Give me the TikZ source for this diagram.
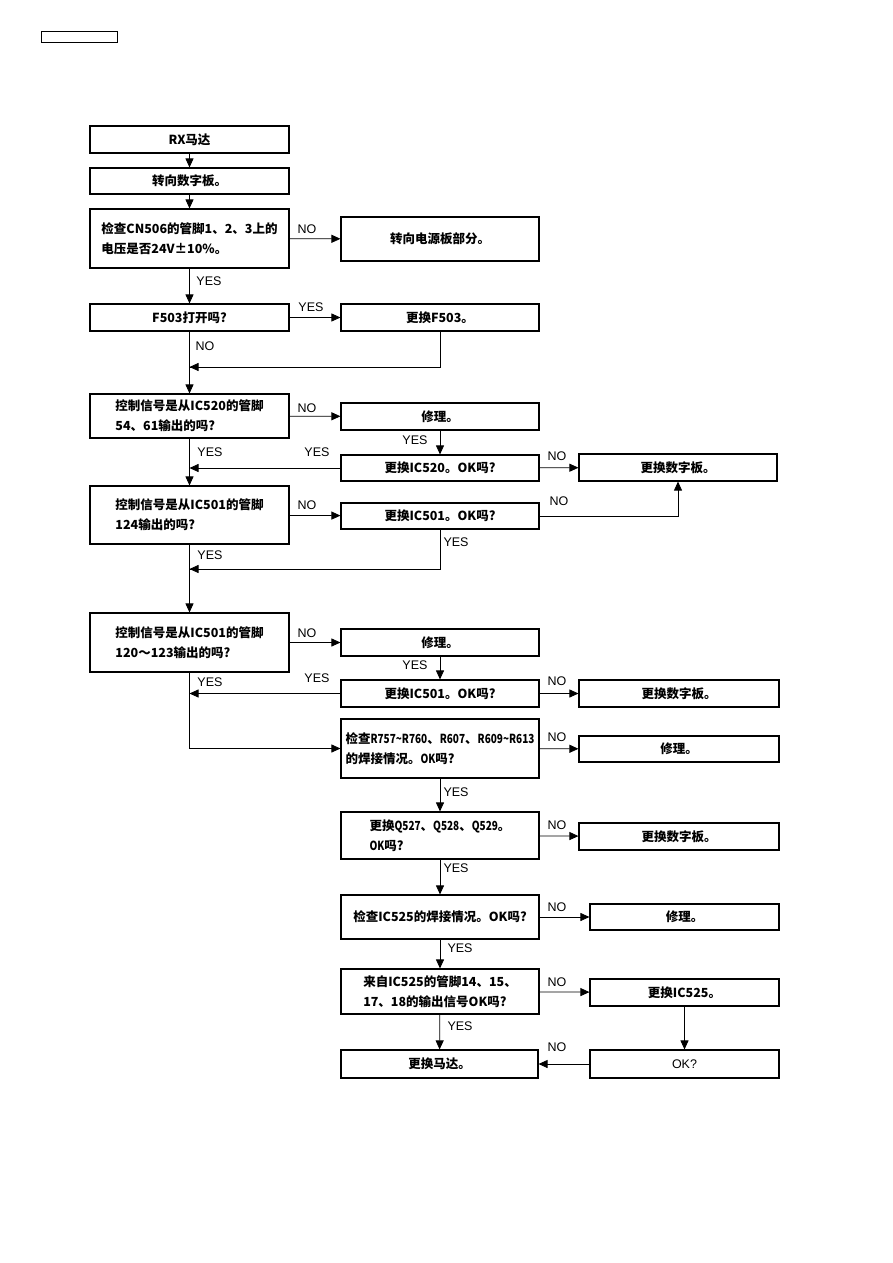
\documentclass[tikz,border=0pt]{standalone}
\usepackage{fontspec}
\setmainfont{Liberation Sans}
\newfontfamily\cjk{Noto Sans CJK SC}
\newfontfamily\cjkn{Noto Sans CJK SC}[FakeStretch=0.8]
\newcommand{\nw}[1]{{\cjkn\bfseries #1}}
\usetikzlibrary{arrows.meta}
\begin{document}
\begin{tikzpicture}[x=1pt,y=-1pt,
  box/.style={draw, line width=1.1pt, inner sep=2pt, align=left,
    font=\cjk\bfseries\fontsize{12.5}{20}\selectfont},
  plain/.style={draw, line width=1.1pt, inner sep=2pt,
    font=\fontsize{12.5}{15}\selectfont},
  lbl/.style={font=\fontsize{12.5}{15}\selectfont, inner sep=0pt},
  arr/.style={line width=0.8pt, -{Triangle[length=9pt,width=8pt]}},
  ln/.style={line width=0.8pt}]
\useasboundingbox (0,0) rectangle (893,1263);
\node[draw, line width=0.8pt, minimum width=76pt, minimum height=11pt, inner sep=0pt] (hdr) at (79,36.5) {};

% left column
\node[box, minimum width=199pt, minimum height=27pt] (A) at (189.5,139.5) {RX马达};
\node[box, minimum width=199pt, minimum height=26pt] (B) at (189.5,181) {转向数字板。};
\node[box, minimum width=199pt, minimum height=59pt] (C) at (189.5,238.5) {检查CN506的管脚1、2、3上的\\电压是否24V±10\%。};
\node[box, minimum width=199pt, minimum height=27pt] (D) at (189.5,317.5) {F503打开吗?};
\node[box, minimum width=199pt, minimum height=44pt] (E) at (189.5,416) {控制信号是从IC520的管脚\\54、61输出的吗?};
\node[box, minimum width=199pt, minimum height=58pt] (F) at (189.5,515) {控制信号是从IC501的管脚\\124输出的吗?};
\node[box, minimum width=199pt, minimum height=59pt] (G) at (189.5,642.5) {控制信号是从IC501的管脚\\120～123输出的吗?};

% middle column
\node[box, minimum width=198pt, minimum height=44pt] (Cr) at (440,239) {转向电源板部分。};
\node[box, minimum width=198pt, minimum height=27pt] (Dr) at (440,317.5) {更换F503。};
\node[box, minimum width=198pt, minimum height=27pt] (R1) at (440,416.5) {修理。};
\node[box, minimum width=198pt, minimum height=26pt] (X1) at (440,468) {更换IC520。OK吗?};
\node[box, minimum width=198pt, minimum height=26pt] (X2) at (440,516) {更换IC501。OK吗?};
\node[box, minimum width=198pt, minimum height=27pt] (R2) at (440,642.5) {修理。};
\node[box, minimum width=198pt, minimum height=27pt] (X3) at (440,693.5) {更换IC501。OK吗?};
\node[box, minimum width=198pt, minimum height=59pt] (H) at (440,748.5) {检查\nw{R757\char`~R760}、\nw{R607}、\nw{R609\char`~R613}\\的焊接情况。\nw{OK}吗?};
\node[box, minimum width=198pt, minimum height=47pt] (I) at (440,835.5) {更换\nw{Q527}、\nw{Q528}、\nw{Q529}。\\\nw{OK}吗?};
\node[box, minimum width=198pt, minimum height=44pt] (J) at (440,917) {检查IC525的焊接情况。OK吗?};
\node[box, minimum width=198pt, minimum height=45pt] (K) at (440,991.5) {来自IC525的管脚14、15、\\17、18的输出信号OK吗?};
\node[box, minimum width=197pt, minimum height=28pt] (L) at (439.5,1064) {更换马达。};

% right column
\node[box, minimum width=198pt, minimum height=27pt] (Z1) at (678,467.5) {更换数字板。};
\node[box, minimum width=200pt, minimum height=27pt] (Z2) at (679,693.5) {更换数字板。};
\node[box, minimum width=200pt, minimum height=26pt] (R3) at (679,749) {修理。};
\node[box, minimum width=200pt, minimum height=27pt] (Z3) at (679,836.5) {更换数字板。};
\node[box, minimum width=189pt, minimum height=26pt] (R4) at (684.5,917) {修理。};
\node[box, minimum width=189pt, minimum height=27pt] (X4) at (684.5,992.5) {更换IC525。};
\node[plain, minimum width=189pt, minimum height=28pt] (OK) at (684.5,1064) {OK?};

% junction coordinates
\coordinate (j1) at (189.5,367);
\coordinate (j2) at (189.5,569);

% connectors
\draw[arr] (A) -- (B);
\draw[arr] (B) -- (C);
\draw[arr] (C) -- (Cr);
\draw[arr] (C) -- (D);
\draw[arr] (D) -- (Dr);
\draw[ln] (Dr.south) |- (j1);
\draw[arr] (Dr.south |- j1) -- (j1);
\draw[arr] (D) -- (E);
\draw[arr] (E) -- (R1);
\draw[arr] (R1) -- (X1);
\draw[arr] (X1.west) -- (X1.west -| E.south);
\draw[arr] (X1) -- (Z1);
\draw[arr] (E) -- (F);
\draw[arr] (F) -- (X2);
\draw[arr] (X2.east) -| (Z1.south);
\draw[ln] (X2.south) |- (j2);
\draw[arr] (X2.south |- j2) -- (j2);
\draw[arr] (F) -- (G);
\draw[arr] (G) -- (R2);
\draw[arr] (R2) -- (X3);
\draw[arr] (X3.west) -- (X3.west -| G.south);
\draw[arr] (X3) -- (Z2);
\draw[arr] (G.south) |- (H.west);
\draw[arr] (H) -- (R3);
\draw[arr] (H) -- (I);
\draw[arr] (I) -- (Z3);
\draw[arr] (I) -- (J);
\draw[arr] (J) -- (R4);
\draw[arr] (J) -- (K);
\draw[arr] (K) -- (X4);
\draw[arr] (K) -- (L);
\draw[arr] (X4) -- (OK);
\draw[arr] (OK) -- (L);

% labels
\node[lbl] (l1) at (307,229) {NO};
\node[lbl] (l2) at (209,281) {YES};
\node[lbl] (l3) at (311,307) {YES};
\node[lbl] (l4) at (205,346) {NO};
\node[lbl] (l5) at (307,408) {NO};
\node[lbl] (l6) at (415,440) {YES};
\node[lbl] (l7) at (317,452) {YES};
\node[lbl] (l8) at (210,452) {YES};
\node[lbl] (l9) at (557,456) {NO};
\node[lbl] (l10) at (307,505) {NO};
\node[lbl] (l11) at (559,501) {NO};
\node[lbl] (l12) at (456,542) {YES};
\node[lbl] (l13) at (210,555) {YES};
\node[lbl] (l14) at (307,633) {NO};
\node[lbl] (l15) at (415,665) {YES};
\node[lbl] (l16) at (317,678) {YES};
\node[lbl] (l17) at (210,682) {YES};
\node[lbl] (l18) at (557,681) {NO};
\node[lbl] (l19) at (557,737) {NO};
\node[lbl] (l20) at (456,792) {YES};
\node[lbl] (l21) at (557,825) {NO};
\node[lbl] (l22) at (456,868) {YES};
\node[lbl] (l23) at (557,907) {NO};
\node[lbl] (l24) at (460,948) {YES};
\node[lbl] (l25) at (557,982) {NO};
\node[lbl] (l26) at (460,1026) {YES};
\node[lbl] (l27) at (557,1047) {NO};
\end{tikzpicture}
\end{document}
